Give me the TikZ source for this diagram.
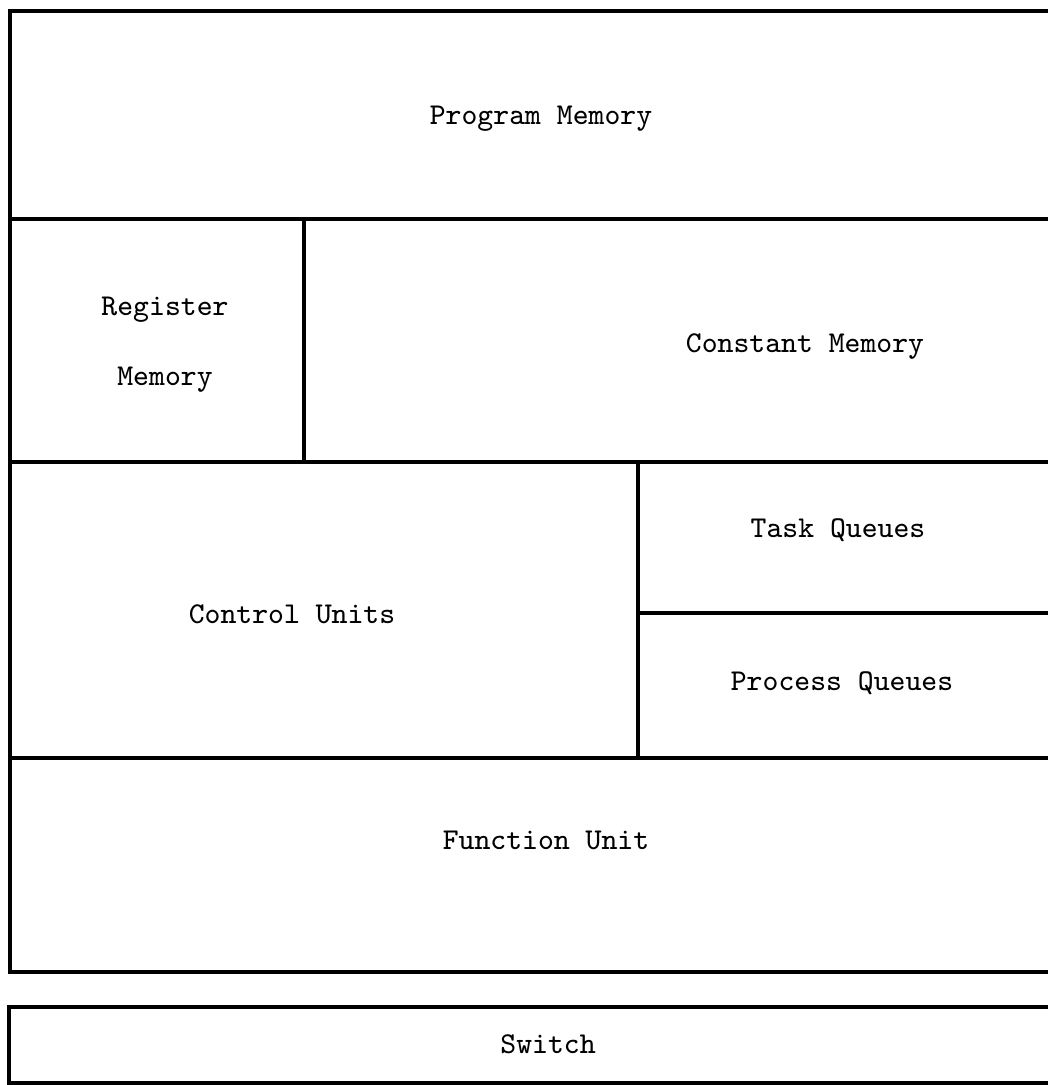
\documentclass[tikz,border=0pt]{standalone}
\begin{document}
\begin{tikzpicture}[x=0.01cm, y=-0.01cm,
    wall/.style={line width=0.9pt, line cap=rect},
    lbl/.style={font=\fontsize{8.6}{10}\ttfamily, inner sep=0pt}]
    \useasboundingbox (0,0) rectangle (1047,1085);

    % outer frame, open on the right
    \draw[wall] (1047,11) -- (10,11) -- (10,972) -- (1047,972);
    \draw[wall] (10,219) -- (1047,219);
    \draw[wall] (10,462) -- (1047,462);
    \draw[wall] (10,758) -- (1047,758);
    \draw[wall] (304,219) -- (304,462);
    \draw[wall] (638,462) -- (638,758);
    \draw[wall] (638,613) -- (1047,613);

    % switch strip
    \draw[wall] (1047,1007) -- (9,1007) -- (9,1083) -- (1047,1083);

    \node[lbl] (prog) at (541,119) {Program Memory};
    \node[lbl] (reg1) at (165,310) {Register};
    \node[lbl] (reg2) at (165,380) {Memory};
    \node[lbl] (const) at (805,347) {Constant Memory};
    \node[lbl] (ctrl) at (292,614) {Control Units};
    \node[lbl] (task) at (838,530) {Task Queues};
    \node[lbl] (proc) at (842,683) {Process Queues};
    \node[lbl] (func) at (546,840) {Function Unit};
    \node[lbl] (sw) at (548,1044) {Switch};
\end{tikzpicture}
\end{document}
